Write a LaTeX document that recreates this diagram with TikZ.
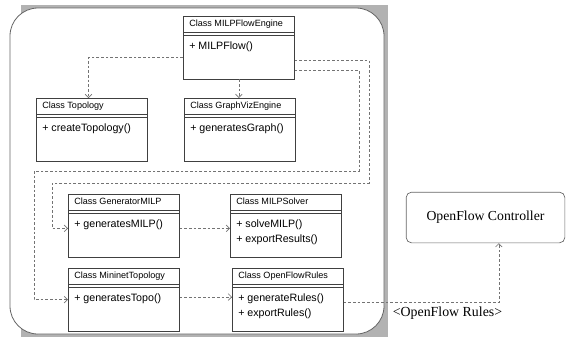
\documentclass[tikz,border=0pt]{standalone}
\usepackage{fontspec}
\setmainfont{Liberation Serif}
\setsansfont{Liberation Sans}
\usetikzlibrary{arrows.meta}

\tikzset{
	classbox/.style={draw=black!75,line width=0.5pt,fill=white,anchor=north west,minimum width=83.25pt,minimum height=47pt,inner sep=0pt},
	headtext/.style={font=\sffamily\fontsize{6.8}{8}\selectfont,inner sep=0pt,anchor=base west},
	methtext/.style={font=\sffamily\fontsize{8}{11}\selectfont,inner sep=0pt,anchor=north west,align=left},
	dep/.style={draw=black!55,line width=0.5pt,dash pattern=on 2pt off 1.5pt,-{Straight Barb[length=2.5pt,width=5pt]}},
	ctrlbox/.style={draw=black!60,line width=0.5pt,rounded corners=4pt,minimum width=119pt,minimum height=38pt,font=\fontsize{10.3}{12}\selectfont},
}

\newcommand{\umlclass}[4]{%
	\node[classbox] (#1) at (#2) {};
	\node[headtext] at ([xshift=4.5pt,yshift=-7.8pt]#1.north west) {#3};
	\draw[black!75,line width=0.4pt] ([yshift=-12pt]#1.north west) -- ([yshift=-12pt]#1.north east)
		([yshift=-14.25pt]#1.north west) -- ([yshift=-14.25pt]#1.north east);
	\node[methtext] at ([xshift=4.5pt,yshift=-19pt]#1.north west) {#4};
}

\begin{document}
\begin{tikzpicture} [x=0.75pt,y=-0.75pt]
			\useasboundingbox (0,0) rectangle (566,340);
			
			\fill[black!30] (21,5) rectangle (388,337);
			\draw[black!60,fill=white,line width=0.6pt,rounded corners=21pt] (10,8) rectangle (384,334);
			
			\umlclass{engine}{183,16}{Class MILPFlowEngine}{+ MILPFlow()}
			\umlclass{topology}{36,98}{Class Topology}{+ createTopology()}
			\umlclass{graphviz}{184,98}{Class GraphVizEngine}{+ generatesGraph()}
			\umlclass{generator}{68,194}{Class GeneratorMILP}{+ generatesMILP()}
			\umlclass{solver}{230,194}{Class MILPSolver}{+ solveMILP()\\+ exportResults()}
			\umlclass{mininet}{68,268}{Class MininetTopology}{+ generatesTopo()}
			\umlclass{rules}{232,268}{Class OpenFlowRules}{+ generateRules()\\+ exportRules()}
			
			\node[ctrlbox] (controller) at (485.5,217.5) {OpenFlow Controller};
			\node[font=\fontsize{10.4}{12}\selectfont,inner sep=0pt] (rulestag) at (447.5,313) {<OpenFlow Rules>};
			
			\coordinate (bendA) at (369,183);
			\coordinate (bendB) at (52,183);
			\coordinate (bendC) at (359,171);
			\coordinate (bendD) at (34,171);
			
			\draw[dep] ([yshift=-7.3pt]engine.west) -| ([xshift=-2.5pt]topology.north);
			\draw[dep] (engine.south) -- (engine.south |- graphviz.north);
			\draw[dep] ([yshift=-9.5pt]engine.east) -| (bendA) -- (bendB) |- ([yshift=-2pt]generator.west);
			\draw[dep] ([yshift=-17pt]engine.east) -| (bendC) -- (bendD) |- (mininet.west);
			\draw[dep] ([yshift=-2pt]generator.east) -- ([yshift=-2pt]solver.west);
			\draw[dep] ([yshift=2pt]mininet.east) -- ([yshift=2pt]rules.west);
			\draw[dep] ([yshift=-2pt]rules.east) -| ([xshift=10pt]controller.south);
			\end{tikzpicture}
\end{document}
